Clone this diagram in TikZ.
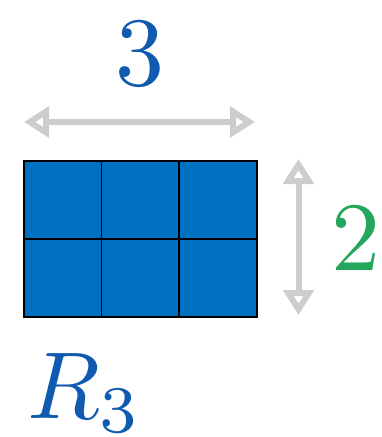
\documentclass[tikz,border=0pt]{standalone}
\usepackage{fix-cm}
\usetikzlibrary{arrows.meta}
\definecolor{cellblue}{RGB}{0,112,192}
\definecolor{txtblue}{RGB}{16,90,176}
\definecolor{txtgreen}{RGB}{36,166,92}
\definecolor{arrgray}{RGB}{205,205,205}
\begin{document}
\begin{tikzpicture}[x=1pt,y=-1pt,
  cell/.style={draw=black, fill=cellblue, line width=1.5pt, minimum width=77.7pt, minimum height=78pt, inner sep=0pt, anchor=north west},
  dimarrow/.style={draw=arrgray, line width=6pt, {Triangle[open,length=25pt,width=30pt]}-{Triangle[open,length=25pt,width=30pt]}},
  bigtext/.style={inner sep=0pt, anchor=base, font=\fontsize{10}{12}\selectfont}]
\useasboundingbox (0,0) rectangle (382,437);
\foreach \r in {0,1}{
  \foreach \c in {0,1,2}{
    \node[cell] (c\r\c) at ({23+77.7*\c},{160+78*\r}) {};
  }
}
\coordinate (hl) at (24,122);
\coordinate (hr) at (255,122);
\coordinate (vt) at (298.5,159);
\coordinate (vb) at (298.5,315);
\draw[dimarrow] (hl) -- (hr);
\draw[dimarrow] (vt) -- (vb);
\node[bigtext, text=txtblue] (three) at (140,85) {\scalebox{9.8}{$3$}};
\node[bigtext, text=txtgreen] (two) at (356,270) {\scalebox{9.8}{$2$}};
\node[bigtext, text=txtblue, anchor=base west] (name) at (27,418) {\scalebox{9.5}{$R_3$}};
\end{tikzpicture}
\end{document}
